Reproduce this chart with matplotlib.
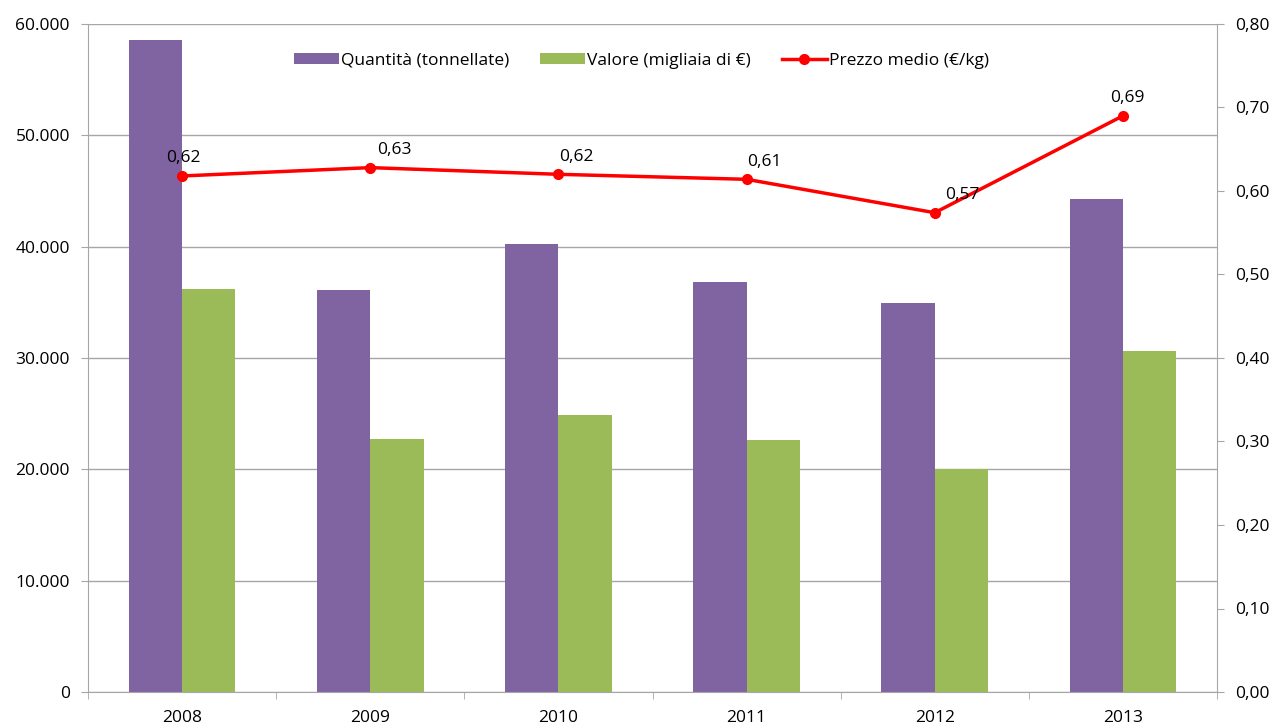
import matplotlib.pyplot as plt
import numpy as np

anni = ['2008', '2009', '2010', '2011', '2012', '2013']
quantita = [58600, 36100, 40200, 36800, 34900, 44300]
valore = [36200, 22700, 24900, 22600, 20000, 30600]
prezzo = [0.618, 0.628, 0.620, 0.614, 0.574, 0.690]
etichette = ['0,62', '0,63', '0,62', '0,61', '0,57', '0,69']

plt.rcParams['font.family'] = ['Open Sans', 'DejaVu Sans']

fig = plt.figure(figsize=(12.73, 7.27), dpi=100)
ax = fig.add_axes([88 / 1273, 35 / 727, (1217 - 88) / 1273, (692 - 24) / 727])

x = np.arange(len(anni))
w = 0.283
grigio = '#a6a6a6'

ax.bar(x - w / 2, quantita, w, color='#8064A2', label='Quantità (tonnellate)', zorder=2)
ax.bar(x + w / 2, valore, w, color='#9BBB59', label='Valore (migliaia di €)', zorder=2)

ax.set_xlim(-0.5, len(anni) - 0.5)
ax.set_ylim(0, 60000)
ax.set_yticks(np.arange(0, 60001, 10000))
ax.set_yticklabels(['0' if v == 0 else f'{v // 1000}.000' for v in range(0, 60001, 10000)])
ax.set_xticks(x)
ax.set_xticklabels(anni)
ax.set_xticks(np.arange(-0.5, len(anni), 1), minor=True)
ax.tick_params(axis='x', which='major', length=0, pad=13)
ax.tick_params(axis='x', which='minor', length=5, color=grigio, direction='out')
ax.tick_params(axis='y', length=5, color=grigio, labelsize=12.5, pad=8)
ax.tick_params(axis='x', labelsize=12.5)
ax.grid(axis='y', color=grigio, linewidth=1, zorder=0)
for s in ['top', 'right']:
    ax.spines[s].set_visible(False)
ax.spines['left'].set_color(grigio)
ax.spines['bottom'].set_color(grigio)

ax2 = ax.twinx()
ax2.plot(x, prezzo, color='#FF0000', linewidth=2.5, marker='o', markersize=7,
         label='Prezzo medio (€/kg)', zorder=3)
ax2.set_ylim(0, 0.8)
ax2.set_yticks(np.arange(0, 0.81, 0.1))
ax2.set_yticklabels([f'{v:.2f}'.replace('.', ',') for v in np.arange(0, 0.81, 0.1)])
ax2.tick_params(axis='y', length=5, color=grigio, labelsize=12.5, pad=8)
for s in ['top', 'left', 'bottom']:
    ax2.spines[s].set_visible(False)
ax2.spines['right'].set_color(grigio)

# posizione delle etichette come nel grafico originale
offs = [1, 24, 18, 18, 28, 4]
for i, (p, t) in enumerate(zip(prezzo, etichette)):
    ax2.annotate(t, (x[i], p), xytext=(offs[i] * 0.72, 7), textcoords='offset points',
                 ha='center', va='bottom', fontsize=12.5)

h1, l1 = ax.get_legend_handles_labels()
h2, l2 = ax2.get_legend_handles_labels()
ax2.legend(h1 + h2, l1 + l2, loc='upper center', bbox_to_anchor=(0.49, 0.98), ncol=3,
           frameon=False, fontsize=12.5, handlelength=2.6, handleheight=0.6,
           columnspacing=1.8, handletextpad=0.1)

fig.savefig('out.png', dpi=100)
